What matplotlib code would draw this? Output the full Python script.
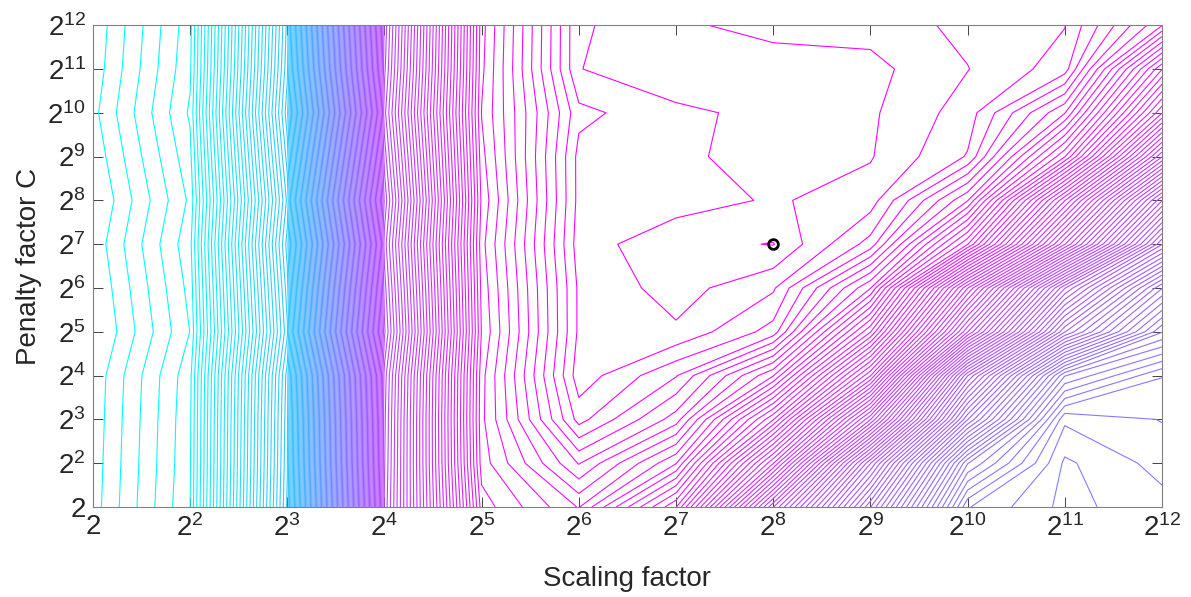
import numpy as np
import matplotlib.pyplot as plt

plt.rcParams['font.family'] = ['Liberation Sans', 'DejaVu Sans']
plt.rcParams['mathtext.fontset'] = 'custom'
plt.rcParams['mathtext.rm'] = 'Liberation Sans'

# grid exponents (log2 of scaling factor g and penalty C)
log2_g = [1, 2, 3, 4, 5, 6, 7, 8, 9, 10, 11, 12]
log2_c = [1, 2, 3, 4, 5, 6, 7, 8, 9, 10, 11, 12]

# cross-validation accuracy (%), rows = log2 C from 1 to 12, cols = log2 g from 1 to 12
acc = np.array([
    [57.88, 59.245, 66.55, 86.30, 93.625, 94.52, 92.52, 87.52, 83.02, 78.27, 77.675, 77.90],
    [57.86, 59.215, 66.475, 86.225, 93.875, 95.27, 94.02, 90.02, 84.77, 79.52, 77.70, 78.10],
    [57.84, 59.20, 66.4375, 86.1875, 93.9375, 96.10, 95.13, 92.27, 87.77, 82.02, 78.05, 78.2625],
    [57.82, 59.17, 66.3625, 86.1125, 93.9125, 96.40, 95.77, 94.27, 90.52, 84.02, 79.52, 78.5125],
    [57.67, 59.005, 65.95, 85.70, 93.775, 96.30, 96.46, 95.90, 92.77, 87.52, 82.77, 80.02],
    [57.74, 59.08, 66.1375, 85.8875, 93.8375, 96.30, 96.61, 96.29, 94.52, 89.52, 84.77, 81.52],
    [57.82, 59.17, 66.3625, 86.1125, 93.9125, 96.38, 96.68, 96.76, 95.90, 93.02, 88.52, 84.02],
    [57.71, 59.05, 66.0625, 85.8125, 93.8125, 96.33, 96.38, 96.53, 96.38, 94.77, 90.52, 86.02],
    [57.82, 59.17, 66.3625, 86.1125, 93.9125, 96.33, 96.40, 96.70, 96.52, 95.98, 93.27, 88.77],
    [57.92, 59.29, 66.6625, 86.4125, 94.0125, 96.18, 96.43, 96.59, 96.54, 96.13, 94.77, 91.02],
    [57.84, 59.20, 66.4375, 86.1875, 93.9375, 96.49, 96.73, 96.65, 96.58, 96.258, 95.875, 92.52],
    [57.80, 59.155, 66.325, 86.075, 93.90, 96.49, 96.55, 96.40, 96.40, 96.18, 96.01, 94.52],
])

best_g, best_c = 8, 7
tick_labels = ['2'] + [r'$\mathregular{2^{%d}}$' % k for k in log2_g[1:]]

fig = plt.figure(figsize=(11.91, 5.97), dpi=100)
ax = fig.add_axes([0.078, 0.1508, 0.8976, 0.807])

levels = np.arange(58, 96.76, 0.25)
ax.contour(log2_g, log2_c, acc, levels=levels, cmap='cool',
           vmin=58, vmax=96.75, linewidths=0.8)
ax.plot(best_g, best_c, 'o', mfc='none', mec='k', ms=7, mew=2)

ax.set_xlim(1, 12)
ax.set_ylim(1, 12)
ax.set_xticks(log2_g)
ax.set_xticklabels(tick_labels)
ax.set_yticks(log2_c)
ax.set_yticklabels(tick_labels)
ax.tick_params(direction='in', length=7, width=0.6, top=True, right=True,
               labelsize=20, colors='#262626', pad=5)
for s in ax.spines.values():
    s.set_color('#808080')
    s.set_linewidth(0.8)

ax.set_xlabel('Scaling factor', fontsize=20, color='#262626')
ax.set_ylabel('Penalty factor C', fontsize=20, color='#262626')
ax.xaxis.set_label_coords(0.5, -0.122)
ax.yaxis.set_label_coords(-0.048, 0.5)

fig.savefig('out.png', dpi=100)
